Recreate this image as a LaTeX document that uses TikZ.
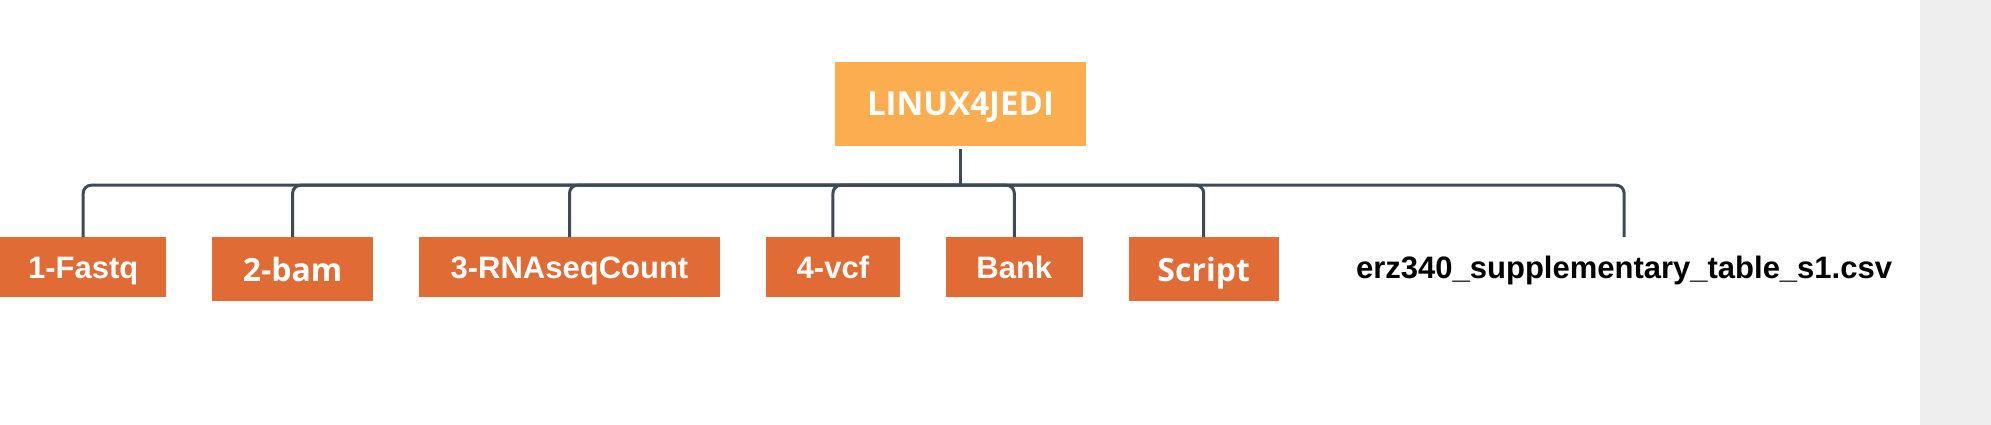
\documentclass[tikz,border=0pt]{standalone}
\usepackage{fontspec}
\setmainfont{Liberation Sans}
\newfontfamily\opensans{Open Sans}
\usetikzlibrary{positioning}
\definecolor{rootorange}{HTML}{FBAD50}
\definecolor{leaforange}{HTML}{E06B35}
\definecolor{linkgray}{HTML}{3E4A56}
\definecolor{sidegray}{HTML}{EEEEEE}

\begin{document}
\begin{tikzpicture}[x=1pt,y=-1pt,
		root/.style={fill=rootorange,text=white,font=\opensans\bfseries\fontsize{33}{39}\selectfont,minimum width=251pt,minimum height=84pt,inner sep=0pt,text height=27pt,text depth=4pt},
		leaf/.style={fill=leaforange,text=white,font=\bfseries\fontsize{31}{37}\selectfont,minimum height=60pt,inner sep=0pt,anchor=north west,text height=26pt,text depth=4pt},
		leafalt/.style={leaf,font=\opensans\bfseries\fontsize{32}{38}\selectfont,minimum height=64pt,text height=28pt},
		link/.style={draw=linkgray,line width=3pt}]
		\fill[sidegray] (1920,0) rectangle (1991,425);
		\useasboundingbox (0,0) rectangle (1991,425);
		
		\node(root) [root] at (960.5,104) {LINUX4JEDI};
		\node(fastq) [leaf,minimum width=166pt] at (0,237) {1-Fastq};
		\node(bam) [leafalt,minimum width=161pt] at ([xshift=45.5pt]fastq.north east) {2-bam};
		\node(rna) [leaf,minimum width=301pt] at ([xshift=45.5pt]bam.north east) {3-RNAseqCount};
		\node(vcf) [leaf,minimum width=134pt] at ([xshift=45.5pt]rna.north east) {4-vcf};
		\node(bank) [leaf,minimum width=137pt] at ([xshift=45.5pt]vcf.north east) {Bank};
		\node(script) [leafalt,minimum width=150pt] at ([xshift=45.5pt]bank.north east) {Script};
		\node(csv) [leaf,fill=none,text=black,minimum width=540pt] at ([xshift=75pt]script.north east) {erz340\_supplementary\_table\_s1.csv};
		
		\coordinate (hub) at ([yshift=-39pt]root.south);
		\draw[link] ([yshift=-3pt]root.south) -- (hub);
		\foreach \leafname in {fastq,bam,rna,vcf,bank,script,csv}
			\draw[link,rounded corners=8pt] (hub) -| (\leafname.north);
\end{tikzpicture}
\end{document}
